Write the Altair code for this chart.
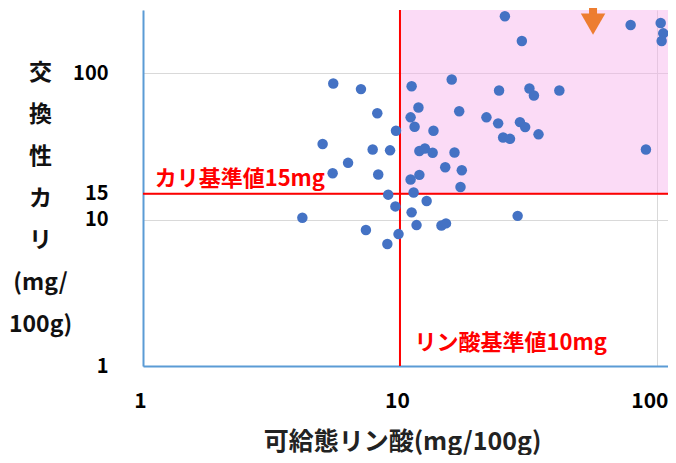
import altair as alt
import pandas as pd

# ---- data (log-log scatter) ----
phosphate = [4.17, 5.50, 7.05, 8.16, 9.65, 5.00, 7.83, 9.15, 6.28, 5.47, 8.23, 9.00,
             11.1, 15.9, 11.8, 17.0, 11.0, 11.4, 13.5, 11.9, 12.5, 13.4, 16.3, 15.0,
             17.4, 11.0, 11.9, 17.2, 11.3, 12.7, 9.6, 11.1, 11.6, 14.5, 15.1, 7.37,
             9.87, 8.93, 28.7, 25.6, 29.8, 24.3, 31.9, 33.2, 41.7, 21.7, 24.1, 29.3,
             30.7, 34.6, 25.2, 26.8, 90.6, 79.0, 103.4, 105.8, 104.3]
potassium = [10.3, 85.0, 77.8, 53.3, 40.4, 32.8, 30.1, 29.7, 24.4, 20.7, 20.3, 14.8,
             81.5, 90.6, 58.3, 55.0, 49.9, 43.0, 40.4, 29.4, 30.6, 28.6, 28.7, 22.8,
             21.7, 18.8, 20.2, 16.7, 15.3, 13.4, 12.3, 11.2, 9.17, 9.10, 9.42, 8.48,
             7.96, 6.81, 10.6, 245, 166, 76.2, 78.6, 70.4, 76.2, 49.9, 45.4, 46.3,
             42.8, 38.2, 36.4, 35.6, 30.1, 213, 220, 187, 166]

x_ticks = [1, 10, 100]
y_ticks = [1, 10, 15, 100]
p_standard = [10]
k_standard = [15]
x_max = [110.4]
y_max = [270]
arrow_x = [56.4]
arrow_head_y = [216]
arrow_tail_y = [420]

FONT = "Noto Sans CJK JP"

xscale = alt.Scale(type="log", domain=[1, x_max[0]], nice=False)
yscale = alt.Scale(type="log", domain=[1, y_max[0]], nice=False)

xaxis = alt.Axis(
    values=x_ticks, format="d", grid=True, gridColor="#D9D9D9", ticks=False,
    domainColor="#5B9BD5", domainWidth=2, labelFont=FONT, labelFontSize=21,
    labelFontWeight="bold", labelColor="#000000", labelPadding=24, labelOverlap=False,
    labelBaseline="top", labelBound=False,
    labelAlign={"condition": {"test": "datum.value >= 100", "value": "right"}, "value": "center"},
    labelOffset={"condition": {"test": "datum.value >= 100", "value": 11}, "value": -3},
    title="可給態リン酸(mg/100g)", titleFont=FONT, titleFontSize=25,
    titleFontWeight="bold", titleColor="#222222", titleX=259, titleY=75,
    titleBaseline="middle", titleAlign="center",
)
yaxis = alt.Axis(
    values=y_ticks, format="d", grid=True, gridColor="#D9D9D9", ticks=False,
    domainColor="#5B9BD5", domainWidth=2, labelFont=FONT, labelFontSize=20,
    labelFontWeight="bold", labelColor="#000000", labelPadding=35, labelOverlap=False,
    title=["交", "換", "性", "カ", "リ", "(mg/", "100g)"], titleAngle=0,
    titleFont=FONT, titleFontSize=23, titleFontWeight="bold", titleColor="#111111",
    titleX=-103, titleY=51, titleAlign="center", titleBaseline="top", titleLineHeight=42,
)


def X(field):
    return alt.X(field, type="quantitative", scale=xscale, axis=xaxis)


def Y(field):
    return alt.Y(field, type="quantitative", scale=yscale, axis=yaxis)


region_df = pd.DataFrame({"x": p_standard, "x2": x_max, "y": k_standard, "y2": y_max})
region = alt.Chart(region_df).mark_rect(color="#F6B0EC", opacity=0.45).encode(
    x=X("x"), x2="x2", y=Y("y"), y2="y2"
)

pts = alt.Chart(pd.DataFrame({"p": phosphate, "k": potassium})).mark_circle(
    color="#4472C4", size=110, opacity=1
).encode(x=X("p"), y=Y("k"))

vline = alt.Chart(pd.DataFrame({"p": p_standard})).mark_rule(
    color="#FF0000", strokeWidth=2
).encode(x=X("p"))
hline = alt.Chart(pd.DataFrame({"k": k_standard})).mark_rule(
    color="#FF0000", strokeWidth=2
).encode(y=Y("k"))

label_k = alt.Chart(pd.DataFrame({"p": [1.11], "k": k_standard, "t": ["カリ基準値15mg"]})).mark_text(
    font=FONT, fontSize=22, fontWeight="bold", color="#FF0000", align="left",
    baseline="bottom", dy=-3
).encode(x=X("p"), y=Y("k"), text="t:N")

label_p = alt.Chart(pd.DataFrame({"p": [11.4], "k": [1.436], "t": ["リン酸基準値10mg"]})).mark_text(
    font=FONT, fontSize=22, fontWeight="bold", color="#FF0000", align="left",
    baseline="middle"
).encode(x=X("p"), y=Y("k"), text="t:N")

shaft = alt.Chart(pd.DataFrame({"p": arrow_x, "k": arrow_head_y, "k2": arrow_tail_y})).mark_rule(
    color="#ED7D31", strokeWidth=8
).encode(x=X("p"), y=Y("k"), y2="k2")
head = alt.Chart(pd.DataFrame({"p": arrow_x, "k": arrow_head_y})).mark_point(
    shape="triangle-down", size=600, filled=True, color="#ED7D31", opacity=1
).encode(x=X("p"), y=Y("k"))

chart = alt.layer(region, vline, hline, pts, label_k, label_p, shaft, head).properties(
    width=525, height=356,
    autosize=alt.AutoSizeParams(type="none"),
    padding={"left": 135, "top": 2, "right": 0, "bottom": 89},
).configure_view(stroke=None)

chart.save("out.html", embed_options={"renderer": "svg", "actions": False})
